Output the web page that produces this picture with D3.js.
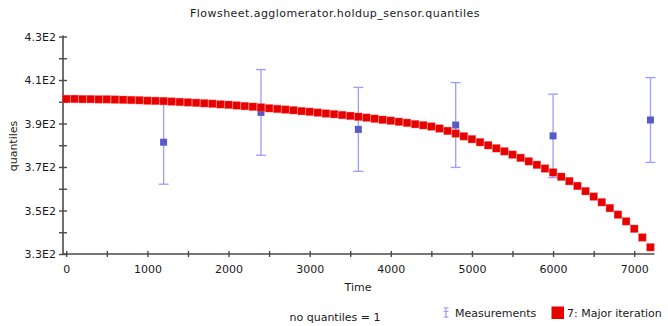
<!DOCTYPE html>
<html>
<head>
<meta charset="utf-8">
<script src="https://cdn.jsdelivr.net/npm/d3@7/dist/d3.min.js"></script>
<style>
  html, body { margin: 0; padding: 0; background: #ffffff; }
  svg { display: block; }
  text { font-family: "DejaVu Sans", Verdana, sans-serif; fill: #1a1a1a; }
</style>
</head>
<body>
<svg id="chart" width="668" height="326"></svg>
<script>
// Simulated holdup quantile over time (major iteration 7)
const iterationTimes = [
  0, 100, 200, 300, 400, 500, 600, 700, 800, 900,
  1000, 1100, 1200, 1300, 1400, 1500, 1600, 1700, 1800, 1900,
  2000, 2100, 2200, 2300, 2400, 2500, 2600, 2700, 2800, 2900,
  3000, 3100, 3200, 3300, 3400, 3500, 3600, 3700, 3800, 3900,
  4000, 4100, 4200, 4300, 4400, 4500, 4600, 4700, 4800, 4900,
  5000, 5100, 5200, 5300, 5400, 5500, 5600, 5700, 5800, 5900,
  6000, 6100, 6200, 6300, 6400, 6500, 6600, 6700, 6800, 6900,
  7000, 7100, 7200
];
const iterationValues = [
  401.3, 401.3, 401.2, 401.2, 401.1, 401.1, 401.0, 400.9, 400.8, 400.7,
  400.5, 400.4, 400.3, 400.1, 399.9, 399.7, 399.5, 399.3, 399.1, 398.8,
  398.6, 398.3, 398.0, 397.7, 397.4, 397.0, 396.7, 396.4, 396.1, 395.7,
  395.4, 395.0, 394.6, 394.3, 393.9, 393.5, 393.1, 392.7, 392.2, 391.7,
  391.3, 390.8, 390.3, 389.7, 389.2, 388.6, 387.7, 386.6, 385.4, 384.1,
  382.8, 381.4, 380.0, 378.6, 377.2, 375.7, 374.2, 372.6, 371.0, 369.3,
  367.5, 365.5, 363.5, 361.3, 358.9, 356.4, 353.8, 351.1, 348.1, 345.0,
  341.6, 337.6, 333.1
];

// Measured quantiles with their error half-widths
const measurementTimes = [1200, 2400, 3600, 4800, 6000, 7200];
const measurementValues = [381.4, 395.1, 387.3, 389.3, 384.3, 391.6];
const measurementErrors = [19.3, 19.7, 19.3, 19.5, 19.2, 19.5];

// Axis ticks
const yTickValues = [330, 340, 350, 360, 370, 380, 390, 400, 410, 420, 430];
const yTickLabels = {330: "3.3E2", 350: "3.5E2", 370: "3.7E2", 390: "3.9E2", 410: "4.1E2", 430: "4.3E2"};
const xTickValues = [0, 500, 1000, 1500, 2000, 2500, 3000, 3500, 4000, 4500, 5000, 5500, 6000, 6500, 7000];
const xTickLabels = {0: "0", 1000: "1000", 2000: "2000", 3000: "3000", 4000: "4000", 5000: "5000", 6000: "6000", 7000: "7000"};

const titleText = "Flowsheet.agglomerator.holdup_sensor.quantiles";
const xTitle = "Time";
const yTitle = "quantiles";
const footnote = "no quantiles = 1";
const legendLabels = ["Measurements", "7: Major iteration"];

const svg = d3.select("#chart");
const axisColor = "#4a4a4a";
const redColor = "#e60000";
const markerColor = "#5a5ac6";
const errColor = "#9a9cff";

const x = d3.scaleLinear().domain([-40, 7250]).range([63, 654.5]);
const y = d3.scaleLinear().domain([330, 430]).range([254, 36.5]);

// Title
svg.append("text").attr("x", 335).attr("y", 17).attr("text-anchor", "middle")
  .style("font-size", "11px").style("letter-spacing", "0.45px").text(titleText);

// Y axis
const yAxis = d3.axisLeft(y).tickValues(yTickValues)
  .tickFormat(d => yTickLabels[d] || "").tickSize(4).tickSizeOuter(0);
const gy = svg.append("g").attr("transform", "translate(63,0)").call(yAxis);
gy.select(".domain").attr("stroke", axisColor).attr("stroke-width", 1.6)
  .attr("d", `M0,${y(430) - 1}V${y(330) + 1}`);
gy.selectAll(".tick line").attr("stroke", axisColor).attr("stroke-width", 1.4)
  .attr("x1", -4).attr("x2", 4);
gy.selectAll(".tick text").attr("x", -7).style("font-size", "11px")
  .style("font-family", "'DejaVu Sans', Verdana, sans-serif").attr("fill", "#1a1a1a");

// X axis
const xAxis = d3.axisBottom(x).tickValues(xTickValues)
  .tickFormat(d => xTickLabels[d] || "").tickSize(4).tickSizeOuter(0);
const gx = svg.append("g").attr("transform", `translate(0,${y(330)})`).call(xAxis);
gx.select(".domain").attr("stroke", axisColor).attr("stroke-width", 1.6)
  .attr("d", `M${x(-40)},0H${x(7250)}`);
gx.selectAll(".tick line").attr("stroke", axisColor).attr("stroke-width", 1.4)
  .attr("y1", -3).attr("y2", 3);
gx.selectAll(".tick text").attr("y", 11).style("font-size", "11px")
  .style("font-family", "'DejaVu Sans', Verdana, sans-serif").attr("fill", "#1a1a1a");

// Axis titles
svg.append("text").attr("x", 358).attr("y", 291).attr("text-anchor", "middle")
  .style("font-size", "11px").text(xTitle);
svg.append("text").attr("transform", "translate(17,146) rotate(-90)")
  .attr("text-anchor", "middle").style("font-size", "11px").text(yTitle);

// Measurements: error bars and markers
const meas = measurementTimes.map((t, i) => ({t, v: measurementValues[i], e: measurementErrors[i]}));
const eg = svg.append("g").attr("stroke", errColor).attr("stroke-width", 1.3);
meas.forEach(d => {
  const cx = x(d.t), top = y(d.v + d.e), bot = y(d.v - d.e);
  eg.append("line").attr("x1", cx).attr("x2", cx).attr("y1", top).attr("y2", bot);
  eg.append("line").attr("x1", cx - 5).attr("x2", cx + 5).attr("y1", top).attr("y2", top);
  eg.append("line").attr("x1", cx - 5).attr("x2", cx + 5).attr("y1", bot).attr("y2", bot);
});
svg.append("g").selectAll("rect").data(meas).join("rect")
  .attr("x", d => x(d.t) - 3.5).attr("y", d => y(d.v) - 3.5)
  .attr("width", 7).attr("height", 7).attr("fill", markerColor);

// Major iteration trajectory
const iter = iterationTimes.map((t, i) => ({t, v: iterationValues[i]}));
svg.append("g").selectAll("rect").data(iter).join("rect")
  .attr("x", d => x(d.t) - 3.8).attr("y", d => y(d.v) - 3.8)
  .attr("width", 7.6).attr("height", 7.6).attr("fill", redColor)
  .attr("stroke", "rgba(255,90,90,0.45)").attr("stroke-width", 0.8);

// Footnote
svg.append("text").attr("x", 335).attr("y", 321).attr("text-anchor", "middle")
  .style("font-size", "11px").text(footnote);

// Legend
const lg = svg.append("g");
const lx = 446;
lg.append("line").attr("x1", lx).attr("x2", lx).attr("y1", 307).attr("y2", 318)
  .attr("stroke", errColor).attr("stroke-width", 1.2);
[308, 311.5, 317].forEach(yy => {
  lg.append("line").attr("x1", lx - 2.5).attr("x2", lx + 2.5).attr("y1", yy).attr("y2", yy)
    .attr("stroke", errColor).attr("stroke-width", 1);
});
lg.append("text").attr("x", 455).attr("y", 317).style("font-size", "11px").text(legendLabels[0]);
lg.append("rect").attr("x", 551.5).attr("y", 306.5).attr("width", 12.5).attr("height", 12.5)
  .attr("fill", redColor);
lg.append("text").attr("x", 567).attr("y", 317).style("font-size", "11px").text(legendLabels[1]);
</script>
</body>
</html>
